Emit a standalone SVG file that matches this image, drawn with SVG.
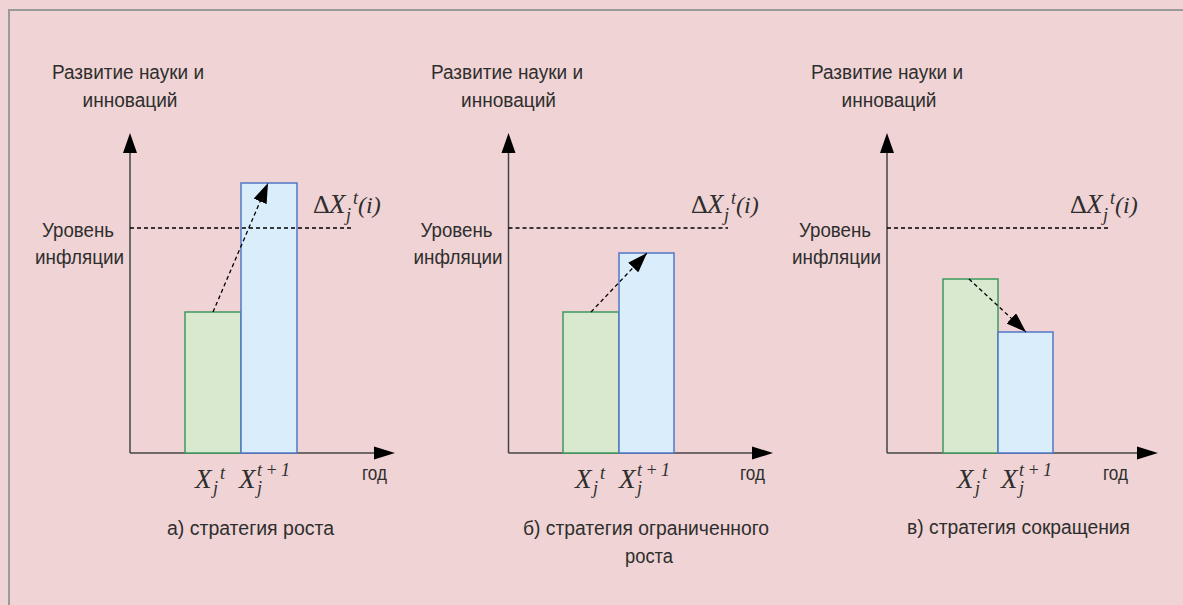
<svg xmlns="http://www.w3.org/2000/svg" width="1183" height="605" viewBox="0 0 1183 605">
<style>
.lbl{font-family:"Liberation Sans",Arial,sans-serif;font-size:20px;fill:#2e2e2e;}
.c{text-anchor:middle;}
.axis{stroke:#444;stroke-width:1.5;fill:none;}
.dash{stroke:#000;stroke-width:1.3;stroke-dasharray:4,3;fill:none;}
.darr{stroke:#000;stroke-width:1.3;stroke-dasharray:4,3;fill:none;marker-end:url(#ah);}
.g{fill:#d9e9cf;stroke:#3c9a5c;stroke-width:1.5;}
.b{fill:#d9eefa;stroke:#5277c6;stroke-width:1.5;}
.mx{font-family:"Liberation Serif","Times New Roman",serif;font-style:italic;font-size:27px;fill:#2e2e2e;}
.ms{font-family:"Liberation Serif","Times New Roman",serif;font-style:italic;font-size:18px;fill:#2e2e2e;}
.md{font-family:"Liberation Serif","Times New Roman",serif;font-size:26px;fill:#2e2e2e;}
.mi{font-family:"Liberation Serif","Times New Roman",serif;font-style:italic;font-size:24px;fill:#2e2e2e;}
.tri{fill:#000;stroke:none;}
</style>
<defs>
<marker id="ah" markerUnits="userSpaceOnUse" markerWidth="20" markerHeight="14" refX="20" refY="7" orient="auto">
<path d="M0,0 L20,7 L0,14 z" fill="#000" stroke="none"/>
</marker>
</defs>
<rect x="0" y="0" width="1183" height="605" fill="#f0d3d4"/>
<rect x="9" y="10" width="1300" height="800" fill="none" stroke="#9a9a9a" stroke-width="2"/>

<!-- Panel a -->
<g id="panel-a">
<text class="lbl c" x="128" y="79" textLength="152" lengthAdjust="spacingAndGlyphs">Развитие науки и</text>
<text class="lbl c" x="130" y="107" textLength="95" lengthAdjust="spacingAndGlyphs">инноваций</text>
<text class="lbl c" x="78" y="237" textLength="72" lengthAdjust="spacingAndGlyphs">Уровень</text>
<text class="lbl c" x="79.5" y="264" textLength="89" lengthAdjust="spacingAndGlyphs">инфляции</text>
<line class="axis" x1="130" y1="150" x2="130" y2="453"/>
<path class="tri" d="M130,133 L137,153 L123,153 z"/>
<line class="axis" x1="130" y1="453" x2="376" y2="453"/>
<path class="tri" d="M395,453 L374,446.5 L374,459.5 z"/>
<g id="a-bar1"><rect class="g" x="185" y="312" width="56" height="141"/></g>
<g id="a-bar2"><rect class="b" x="241" y="183" width="56" height="270"/></g>
<line class="dash" x1="130" y1="228" x2="351" y2="228"/>
<text class="md" x="313" y="213">Δ</text>
<text class="mx" x="329" y="213">X</text>
<text class="ms" x="353" y="204">t</text>
<text class="ms" x="346" y="221">j</text>
<text class="mi" x="358" y="213">(i)</text>
<text class="lbl" x="362" y="480" textLength="25" lengthAdjust="spacingAndGlyphs">год</text>
<text class="mx" x="195" y="488">X</text>
<text class="ms" x="220" y="479">t</text>
<text class="ms" x="213" y="494">j</text>
<text class="mx" x="239" y="488">X</text>
<text class="ms" x="257" y="476" textLength="33" lengthAdjust="spacing">t+1</text>
<text class="ms" x="257" y="494">j</text>
<text class="lbl c" x="250.5" y="535" textLength="167" lengthAdjust="spacingAndGlyphs">а) стратегия роста</text>
</g>

<!-- Panel b -->
<g id="panel-b">
<text class="lbl c" x="507" y="79" textLength="152" lengthAdjust="spacingAndGlyphs">Развитие науки и</text>
<text class="lbl c" x="508.5" y="107" textLength="95" lengthAdjust="spacingAndGlyphs">инноваций</text>
<text class="lbl c" x="456.5" y="237" textLength="72" lengthAdjust="spacingAndGlyphs">Уровень</text>
<text class="lbl c" x="458" y="264" textLength="89" lengthAdjust="spacingAndGlyphs">инфляции</text>
<line class="axis" x1="508.5" y1="150" x2="508.5" y2="453"/>
<path class="tri" d="M508.5,133 L515.5,153 L501.5,153 z"/>
<line class="axis" x1="508.5" y1="453" x2="754" y2="453"/>
<path class="tri" d="M773,453 L752,446.5 L752,459.5 z"/>
<g id="b-bar1"><rect class="g" x="563" y="312" width="56" height="141"/></g>
<g id="b-bar2"><rect class="b" x="619" y="253" width="55" height="200"/></g>
<line class="dash" x1="508.5" y1="228" x2="728" y2="228"/>
<text class="md" x="691" y="213">Δ</text>
<text class="mx" x="707" y="213">X</text>
<text class="ms" x="731" y="204">t</text>
<text class="ms" x="724" y="221">j</text>
<text class="mi" x="736" y="213">(i)</text>
<text class="lbl" x="740" y="480" textLength="25" lengthAdjust="spacingAndGlyphs">год</text>
<text class="mx" x="575" y="488">X</text>
<text class="ms" x="600" y="479">t</text>
<text class="ms" x="593" y="494">j</text>
<text class="mx" x="619" y="488">X</text>
<text class="ms" x="637" y="476" textLength="33" lengthAdjust="spacing">t+1</text>
<text class="ms" x="637" y="494">j</text>
<text class="lbl c" x="646" y="535" textLength="246" lengthAdjust="spacingAndGlyphs">б) стратегия ограниченного</text>
<text class="lbl c" x="649" y="563" textLength="48" lengthAdjust="spacingAndGlyphs">роста</text>
</g>

<!-- Panel c -->
<g id="panel-c">
<text class="lbl c" x="887" y="79" textLength="152" lengthAdjust="spacingAndGlyphs">Развитие науки и</text>
<text class="lbl c" x="889" y="107" textLength="95" lengthAdjust="spacingAndGlyphs">инноваций</text>
<text class="lbl c" x="835" y="237" textLength="72" lengthAdjust="spacingAndGlyphs">Уровень</text>
<text class="lbl c" x="836.5" y="264" textLength="89" lengthAdjust="spacingAndGlyphs">инфляции</text>
<line class="axis" x1="887" y1="150" x2="887" y2="453"/>
<path class="tri" d="M887,133 L894,153 L880,153 z"/>
<line class="axis" x1="887" y1="453" x2="1139" y2="453"/>
<path class="tri" d="M1158,453 L1137,446.5 L1137,459.5 z"/>
<g id="c-bar1"><rect class="g" x="943" y="279" width="55" height="174"/></g>
<g id="c-bar2"><rect class="b" x="998" y="332" width="55" height="121"/></g>
<line class="dash" x1="887" y1="228" x2="1108" y2="228"/>
<text class="md" x="1070" y="213">Δ</text>
<text class="mx" x="1086" y="213">X</text>
<text class="ms" x="1110" y="204">t</text>
<text class="ms" x="1103" y="221">j</text>
<text class="mi" x="1115" y="213">(i)</text>
<text class="lbl" x="1103" y="480" textLength="25" lengthAdjust="spacingAndGlyphs">год</text>
<text class="mx" x="957" y="488">X</text>
<text class="ms" x="982" y="479">t</text>
<text class="ms" x="975" y="494">j</text>
<text class="mx" x="1001" y="488">X</text>
<text class="ms" x="1019" y="476" textLength="33" lengthAdjust="spacing">t+1</text>
<text class="ms" x="1019" y="494">j</text>
<text class="lbl c" x="1018.5" y="534" textLength="223" lengthAdjust="spacingAndGlyphs">в) стратегия сокращения</text>
</g>

<!-- connectors -->
<g id="connectors">
<line class="darr" x1="213" y1="312" x2="268" y2="183"/>
<line class="darr" x1="591" y1="312" x2="647" y2="253"/>
<line class="darr" x1="969" y1="279" x2="1026" y2="332"/>
</g>
</svg>
